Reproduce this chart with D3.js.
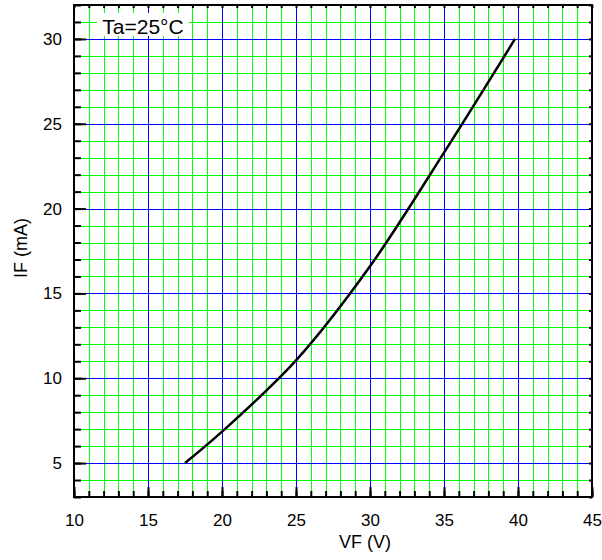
<!DOCTYPE html>
<html>
<head>
<meta charset="utf-8">
<script src="https://cdn.jsdelivr.net/npm/d3@7"></script>
<style>
  body { margin: 0; background: #fff; }
  svg { display: block; font-family: "Liberation Sans", Arial, sans-serif; }
</style>
</head>
<body>
<svg></svg>
<script>
// data
var vf = [17.5, 20, 25, 30, 35, 39.8];
var iF = [5, 6.85, 11.05, 16.6, 23.3, 30];

var xTicks = [10, 15, 20, 25, 30, 35, 40, 45];
var yTicks = [5, 10, 15, 20, 25, 30];
var xDomain = [10, 45];
var yDomain = [3, 32];
var note = "Ta=25°C";

var W = 602, H = 560;
var margin = {top: 5, left: 74, bottom: 63, right: 10};
var width = W - margin.left - margin.right;
var height = H - margin.top - margin.bottom;

var svg = d3.select("svg").attr("width", W).attr("height", H)
  .append("g")
    .attr("transform", "translate(" + margin.left + "," + margin.top + ")");

var x = d3.scaleLinear().domain(xDomain).range([0, width]);
var y = d3.scaleLinear().domain(yDomain).range([height, 0]);

var xMinor = d3.range(xDomain[0], xDomain[1] + 1, 1);
var yMinor = d3.range(yDomain[0], yDomain[1] + 1, 1);

// snap 1px grid lines onto pixel centres
var snap = v => Math.round(v) + 0.5;

// grid: green every unit, blue on the majors
var grid = svg.append("g");
function vLines(vals, col) {
  grid.append("g").selectAll("line").data(vals).enter().append("line")
    .attr("x1", d => snap(x(d))).attr("x2", d => snap(x(d)))
    .attr("y1", 0).attr("y2", height)
    .attr("stroke", col).attr("stroke-width", 1);
}
function hLines(vals, col) {
  grid.append("g").selectAll("line").data(vals).enter().append("line")
    .attr("y1", d => snap(y(d))).attr("y2", d => snap(y(d)))
    .attr("x1", 0).attr("x2", width)
    .attr("stroke", col).attr("stroke-width", 1);
}
vLines(xMinor, "#00ff00");
hLines(yMinor, "#00ff00");
vLines(xTicks.slice(1, -1), "#0000ff");
hLines(yTicks, "#0000ff");

// curve
var pts = vf.map((v, i) => [v, iF[i]]);
svg.append("path")
  .datum(pts)
  .attr("fill", "none")
  .attr("stroke", "#000")
  .attr("stroke-width", 2.5)
  .attr("d", d3.line().x(d => x(d[0])).y(d => y(d[1])).curve(d3.curveCatmullRom));

// axes
function styleAxis(g, w) {
  g.select(".domain").remove();
  g.selectAll(".tick line").attr("stroke", "#000").attr("stroke-width", w);
}

// minor ticks
svg.append("g").attr("transform", "translate(0," + height + ")")
  .call(d3.axisBottom(x).tickValues(xMinor).tickSize(-6).tickFormat(""))
  .call(g => styleAxis(g, 2));
svg.append("g")
  .call(d3.axisLeft(y).tickValues(yMinor).tickSize(-7).tickFormat(""))
  .call(g => styleAxis(g, 2));
svg.append("g")
  .call(d3.axisTop(x).tickValues(xMinor).tickSize(-3).tickFormat(""))
  .call(g => styleAxis(g, 2));
svg.append("g").attr("transform", "translate(" + width + ",0)")
  .call(d3.axisRight(y).tickValues(yMinor).tickSize(-3).tickFormat(""))
  .call(g => styleAxis(g, 2));

// major ticks + labels
svg.append("g").attr("transform", "translate(0," + height + ")")
  .call(d3.axisBottom(x).tickValues(xTicks).tickSizeInner(-10).tickSizeOuter(0).tickPadding(17))
  .call(g => styleAxis(g, 2))
  .call(g => g.selectAll("text").attr("font-size", 17).attr("fill", "#000").attr("font-family", null));
svg.append("g")
  .call(d3.axisLeft(y).tickValues(yTicks).tickSizeInner(-12).tickSizeOuter(0).tickPadding(12))
  .call(g => styleAxis(g, 2))
  .call(g => g.selectAll("text").attr("font-size", 17).attr("fill", "#000").attr("font-family", null));

// frame
svg.append("rect")
  .attr("width", width).attr("height", height)
  .attr("fill", "none").attr("stroke", "#000").attr("stroke-width", 2);

// axis titles
svg.append("text")
  .attr("x", 291).attr("y", height + 51)
  .attr("text-anchor", "middle").attr("font-size", 18)
  .text("VF (V)");
svg.append("text")
  .attr("transform", "translate(" + (27 - margin.left) + "," + (248 - margin.top) + ") rotate(-90)")
  .attr("text-anchor", "middle").attr("font-size", 18)
  .text("IF (mA)");

// annotation
svg.append("rect")
  .attr("x", 97 - margin.left).attr("y", 13 - margin.top)
  .attr("width", 92).attr("height", 23)
  .attr("fill", "#fff");
svg.append("text")
  .attr("x", 143 - margin.left).attr("y", 34 - margin.top)
  .attr("text-anchor", "middle").attr("font-size", 21)
  .text(note);
</script>
</body>
</html>
